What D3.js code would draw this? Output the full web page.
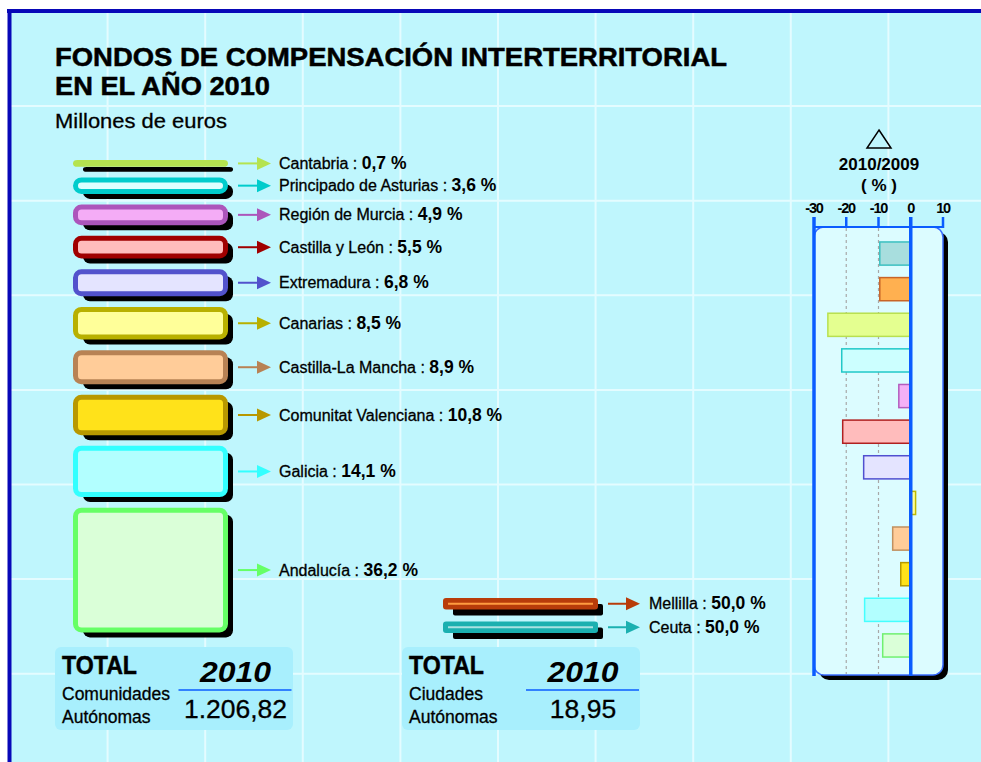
<!DOCTYPE html>
<html>
<head>
<meta charset="utf-8">
<script src="https://cdn.jsdelivr.net/npm/d3@7"></script>
<style>
  html, body { margin: 0; padding: 0; background: #ffffff; }
  svg { display: block; font-family: "Liberation Sans", Arial, Helvetica, sans-serif; }
  .reg { stroke: #000; stroke-width: 0.3px; }
</style>
</head>
<body>
<svg id="chart" width="981" height="762"></svg>
<script>
// ---- Data ----
const regions = ["Cantabria", "Principado de Asturias", "Región de Murcia", "Castilla y León",
  "Extremadura", "Canarias", "Castilla-La Mancha", "Comunitat Valenciana", "Galicia", "Andalucía"];
const shares = [0.7, 3.6, 4.9, 5.5, 6.8, 8.5, 8.9, 10.8, 14.1, 36.2];

const cities = ["Mellilla", "Ceuta"];
const cityShares = [50.0, 50.0];

const changeNames = ["Ceuta", "Melilla", "Cantabria", "Principado de Asturias", "Región de Murcia",
  "Castilla y León", "Extremadura", "Canarias", "Castilla-La Mancha", "Comunitat Valenciana",
  "Galicia", "Andalucía"];
const changes = [-9.6, -9.6, -25.7, -21.4, -3.7, -21.1, -14.6, 1.5, -5.6, -3.1, -14.3, -8.7];
const changeTicks = [-30, -20, -10, 0, 10];

const totalYear = "2010";
const totalGroups = [["Comunidades", "Autónomas"], ["Ciudades", "Autónomas"]];
const totalValues = [1206.82, 18.95];

// ---- Styles ----
const regionStroke = ["#b5e34f", "#00cccc", "#ac55bb", "#a00000", "#5252cc",
  "#b8b000", "#b88254", "#b89800", "#33ffff", "#66ff66"];
const regionFill = ["#b5e34f", "#dcffff", "#f4acf6", "#ffbcbc", "#e4e4ff",
  "#ffff99", "#ffcc99", "#ffe21a", "#b2ffff", "#daffd8"];
const cityColor = ["#b83c0a", "#1bb0b0"];
const cityHighlight = ["#ff9c40", "#a8e2e2"];
const changeFill = ["#a8dede", "#ffb050", "#e4ff90", "#ccffff", "#f4b0f6", "#ffbcbc",
  "#e4e4ff", "#ffff99", "#ffcc99", "#ffe21a", "#b2ffff", "#daffd8"];
const changeStroke = ["#3cc0c0", "#c86428", "#b8e050", "#20c8c8", "#b45cbe", "#b02020",
  "#5050d0", "#c0b800", "#c09060", "#b89a00", "#44ffff", "#70f070"];

const bg = "#bff6fd";
const frameBlue = "#0808b8";
const axisBlue = "#0a5cff";

const es = d3.formatLocale({ decimal: ",", thousands: ".", grouping: [3], currency: ["", " €"] });
const fmtPct = es.format(".1f");
const fmtTotal = es.format(",.2f");

const svg = d3.select("#chart");
const W = 981, H = 762;

// ---- Background, grid and frame ----
svg.append("rect").attr("x", 10).attr("y", 11).attr("width", W - 10).attr("height", H - 11).attr("fill", bg);
const grid = svg.append("g").attr("stroke", "#e4fcff").attr("stroke-width", 2);
d3.range(1, 10).forEach(k => {
  const x = 10 + 97.6 * k;
  grid.append("line").attr("x1", x).attr("x2", x).attr("y1", 11).attr("y2", H);
});
d3.range(1, 8).forEach(k => {
  const y = 11.5 + 94.6 * k;
  grid.append("line").attr("y1", y).attr("y2", y).attr("x1", 10).attr("x2", W);
});
svg.append("line").attr("x1", 7).attr("x2", W).attr("y1", 11).attr("y2", 11)
  .attr("stroke", frameBlue).attr("stroke-width", 4);
svg.append("line").attr("x1", 9.5).attr("x2", 9.5).attr("y1", 9).attr("y2", H)
  .attr("stroke", frameBlue).attr("stroke-width", 4);

// ---- Titles ----
svg.append("text").attr("x", 55).attr("y", 66).attr("font-size", 25.5).attr("font-weight", "bold")
  .attr("stroke", "#000").attr("stroke-width", 0.5)
  .attr("textLength", 672).attr("lengthAdjust", "spacingAndGlyphs")
  .text("FONDOS DE COMPENSACIÓN INTERTERRITORIAL");
svg.append("text").attr("x", 55).attr("y", 95).attr("font-size", 25.5).attr("font-weight", "bold")
  .attr("stroke", "#000").attr("stroke-width", 0.5)
  .attr("textLength", 215).attr("lengthAdjust", "spacingAndGlyphs")
  .text("EN EL AÑO 2010");
svg.append("text").attr("class", "reg").attr("x", 55).attr("y", 128).attr("font-size", 21)
  .attr("textLength", 172).attr("lengthAdjust", "spacingAndGlyphs")
  .text("Millones de euros");

// ---- Arrow helper ----
function arrow(g, x0, x1, y, color) {
  g.append("line").attr("x1", x0).attr("x2", x1 - 12).attr("y1", y).attr("y2", y)
    .attr("stroke", color).attr("stroke-width", 2);
  g.append("path").attr("d", `M${x1 - 14},${y - 6.5}L${x1},${y}L${x1 - 14},${y + 6.5}Z`)
    .attr("fill", color);
}

// ---- Stacked regional bars ----
const hScale = d3.scaleLinear().domain([0, 100]).range([4.5, 336.5]);
const barX0 = 73, barX1 = 228, gap = 10.6;
let yCursor = 160;
const regionRows = regions.map((name, i) => {
  const h = hScale(shares[i]);
  const row = { name, value: shares[i], y: yCursor, h, i };
  yCursor += h + gap;
  return row;
});

const left = svg.append("g");
regionRows.forEach(r => {
  const g = left.append("g");
  // drop shadow
  g.append("rect").attr("x", barX0 + 10).attr("y", r.y + 7)
    .attr("width", barX1 + 5 - (barX0 + 10)).attr("height", r.h - 2)
    .attr("rx", Math.min(7, r.h / 2)).attr("fill", "#000");
  // bar
  const sw = 5;
  g.append("rect").attr("x", barX0 + sw / 2).attr("y", r.y + sw / 2)
    .attr("width", barX1 - barX0 - sw).attr("height", Math.max(0.5, r.h - sw))
    .attr("rx", Math.min(6, (r.h - sw) / 2 + 1)).attr("ry", Math.min(6, (r.h - sw) / 2 + 1))
    .attr("fill", regionFill[r.i]).attr("stroke", regionStroke[r.i]).attr("stroke-width", sw);
  const cy = r.y + r.h / 2;
  arrow(g, 238, 271, cy, regionStroke[r.i]);
  const t = g.append("text").attr("x", 279).attr("y", cy + 5.5).attr("fill", "#000");
  t.append("tspan").attr("class", "reg").attr("font-size", 16).text(r.name + " : ");
  t.append("tspan").attr("font-size", 17.5).attr("font-weight", "bold").text(fmtPct(r.value) + " %");
});

// ---- Autonomous cities bars ----
const cScale = d3.scaleLinear().domain([0, 100]).range([0, 23]);
const cityX0 = 443, cityX1 = 598;
let cy0 = 598;
cities.forEach((name, i) => {
  const h = cScale(cityShares[i]);
  const y = cy0;
  cy0 += h + 12;
  const g = svg.append("g");
  g.append("rect").attr("x", cityX0 + 10).attr("y", y + 6).attr("width", cityX1 + 5 - cityX0 - 10)
    .attr("height", h).attr("rx", 2).attr("fill", "#000");
  g.append("rect").attr("x", cityX0).attr("y", y).attr("width", cityX1 - cityX0).attr("height", h)
    .attr("rx", 3).attr("fill", cityColor[i]);
  g.append("line").attr("x1", cityX0 + 5).attr("x2", cityX1 - 5).attr("y1", y + h / 2).attr("y2", y + h / 2)
    .attr("stroke", cityHighlight[i]).attr("stroke-width", 2);
  const my = y + h / 2;
  arrow(g, 608, 640, my, cityColor[i]);
  const t = g.append("text").attr("x", 649).attr("y", my + 5.5);
  t.append("tspan").attr("class", "reg").attr("font-size", 16).text(name + " : ");
  t.append("tspan").attr("font-size", 17.5).attr("font-weight", "bold").text(fmtPct(cityShares[i]) + " %");
});

// ---- Totals boxes ----
const boxes = [{ x: 55, cx: 235.5 }, { x: 402, cx: 583 }];
boxes.forEach((b, i) => {
  const g = svg.append("g");
  g.append("rect").attr("x", b.x).attr("y", 647).attr("width", 238).attr("height", 83)
    .attr("rx", 6).attr("fill", "#a8effd");
  g.append("text").attr("x", b.x + 7).attr("y", 674).attr("font-size", 26).attr("font-weight", "bold")
    .attr("stroke", "#000").attr("stroke-width", 0.5)
    .attr("textLength", 75).attr("lengthAdjust", "spacingAndGlyphs").text("TOTAL");
  g.append("text").attr("class", "reg").attr("x", b.x + 7).attr("y", 700).attr("font-size", 17.5).text(totalGroups[i][0]);
  g.append("text").attr("class", "reg").attr("x", b.x + 7).attr("y", 723).attr("font-size", 17.5).text(totalGroups[i][1]);
  g.append("text").attr("x", b.cx).attr("y", 682).attr("text-anchor", "middle")
    .attr("font-size", 29).attr("font-weight", "bold").attr("font-style", "italic")
    .attr("textLength", 71).attr("lengthAdjust", "spacingAndGlyphs").text(totalYear);
  g.append("line").attr("x1", b.cx - 57).attr("x2", b.cx + 56).attr("y1", 690).attr("y2", 690)
    .attr("stroke", axisBlue).attr("stroke-width", 1.5);
  g.append("text").attr("class", "reg").attr("x", b.cx).attr("y", 718).attr("text-anchor", "middle")
    .attr("font-size", 26.5).text(fmtTotal(totalValues[i]));
});

// ---- Change 2010/2009 chart ----
const xC = d3.scaleLinear().domain([-30, 10]).range([814, 943]);
const yC = d3.scaleBand().domain(changeNames).range([227, 672]).paddingInner(0.35).paddingOuter(0.42);
const panelTop = 227, panelBottom = 675;
const right = svg.append("g");

// heading
right.append("path").attr("d", "M879,130L891,148L867,148Z").attr("fill", "none")
  .attr("stroke", "#000").attr("stroke-width", 1.5);
right.append("text").attr("x", 879).attr("y", 170).attr("text-anchor", "middle")
  .attr("font-size", 17).attr("font-weight", "bold").text("2010/2009");
right.append("text").attr("x", 879).attr("y", 191).attr("text-anchor", "middle")
  .attr("font-size", 17).attr("font-weight", "bold").text("( % )");

// panel
right.append("rect").attr("x", xC(-30) + 5).attr("y", panelTop + 5)
  .attr("width", xC(10) - xC(-30)).attr("height", panelBottom - panelTop).attr("rx", 10).attr("fill", "#000");
right.append("rect").attr("x", xC(-30)).attr("y", panelTop)
  .attr("width", xC(10) - xC(-30)).attr("height", panelBottom - panelTop).attr("rx", 10)
  .attr("fill", "#dcfcff").attr("stroke", "#3a6cff").attr("stroke-width", 1.5);

// dotted reference lines
right.selectAll("line.ref").data(changeTicks.filter(d => d > -30 && d < 0)).join("line")
  .attr("class", "ref").attr("x1", d => xC(d)).attr("x2", d => xC(d))
  .attr("y1", panelTop + 1).attr("y2", panelBottom - 1)
  .attr("stroke", "#a8a8a8").attr("stroke-width", 1.2).attr("stroke-dasharray", "3,3");

// bars
right.selectAll("rect.chg").data(changes).join("rect").attr("class", "chg")
  .attr("x", d => xC(Math.min(0, d)))
  .attr("width", d => Math.abs(xC(d) - xC(0)))
  .attr("y", (d, i) => yC(changeNames[i]))
  .attr("height", yC.bandwidth())
  .attr("fill", (d, i) => changeFill[i])
  .attr("stroke", (d, i) => changeStroke[i]).attr("stroke-width", 1.5);

// axis
right.append("line").attr("x1", xC(-30)).attr("x2", xC(10)).attr("y1", panelTop).attr("y2", panelTop)
  .attr("stroke", axisBlue).attr("stroke-width", 2);
right.selectAll("line.tick").data(changeTicks).join("line").attr("class", "tick")
  .attr("x1", d => xC(d)).attr("x2", d => xC(d))
  .attr("y1", 217)
  .attr("y2", d => (d === -30 || d === 0) ? panelBottom + 1 : panelTop + 1)
  .attr("stroke", axisBlue)
  .attr("stroke-width", d => (d === -30 || d === 0) ? 3.5 : 2.5);
right.selectAll("text.tl").data(changeTicks).join("text").attr("class", "tl")
  .attr("x", d => xC(d)).attr("y", 213).attr("text-anchor", "middle")
  .attr("font-size", 14.5).attr("font-weight", "bold").attr("letter-spacing", -1.2)
  .text(d => d);
</script>
</body>
</html>
